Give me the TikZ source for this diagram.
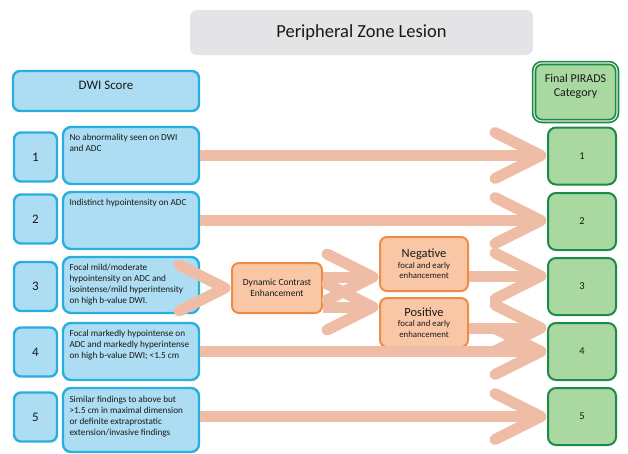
\documentclass[tikz,border=0pt]{standalone}
\usepackage{fontspec}
\setmainfont{Carlito}

\definecolor{blueFill}{HTML}{ADDDF2}
\definecolor{blueLine}{HTML}{2AAEE0}
\definecolor{greenFill}{HTML}{A9D8A0}
\definecolor{greenLine}{HTML}{1E8A4A}
\definecolor{orangeFill}{HTML}{FAC7A6}
\definecolor{orangeLine}{HTML}{EE8C45}
\definecolor{flowColor}{HTML}{EFBDA6}
\definecolor{titleFill}{HTML}{E4E4E6}

% text held at the top of a box
\newcommand{\boxtext}[3]{\parbox[c][#1][t]{#2}{#3}}
% open chevron head and thick flow arrow
\newcommand{\chevron}[1]{\draw[flow, line cap=round, line join=round] ([shift={(-52pt,23pt)}]#1) -- ([xshift=-6pt]#1) -- ([shift={(-52pt,-23pt)}]#1);}
\newcommand{\flowto}[2]{\draw[flow, shorten >=6pt] (#1) -- (#2); \chevron{#2}}

\begin{document}
\begin{tikzpicture}[x=1pt, y=-1pt, text=black!90,
    descbox/.style={rectangle, rounded corners=8pt, draw=blueLine, fill=blueFill, line width=2.4pt, inner xsep=6.5pt, inner ysep=0pt, font=\fontsize{9.2}{11}\selectfont},
    numbox/.style={rectangle, rounded corners=7pt, draw=blueLine, fill=blueFill, line width=2.4pt, minimum width=43pt, minimum height=49pt, font=\fontsize{13}{15}\selectfont},
    catbox/.style={rectangle, rounded corners=8pt, draw=greenLine, fill=greenFill, line width=2pt, minimum width=68pt, minimum height=57pt, font=\fontsize{10.5}{12}\selectfont},
    dcebox/.style={rectangle, rounded corners=7pt, draw=orangeLine, fill=orangeFill, line width=2pt, align=center},
    flow/.style={draw=flowColor, line width=11pt}]
        \useasboundingbox (0, 0) rectangle (628, 453);

        \node[rectangle, rounded corners=7pt, fill=titleFill, minimum width=343pt, minimum height=45pt, font=\fontsize{18.5}{22}\selectfont] (title) at (361.5, 32.5) {Peripheral Zone Lesion};
        \node[numbox, minimum width=186pt, minimum height=40pt, text height=9pt, text depth=13pt] (dwi) at (106, 91) {DWI Score};
        \node[catbox, double=greenFill!40!white, double distance=1.1pt, line width=1.7pt, minimum width=83pt, minimum height=58pt, inner sep=0pt, font=\fontsize{12}{14}\selectfont] (final) at (575.5, 92) {\boxtext{58pt}{80pt}{\centering\vspace*{11pt}Final PIRADS\\Category}};

        \node[numbox] (n1) at (35.5, 157) {1};
        \node[numbox] (n2) at (35.5, 219) {2};
        \node[numbox] (n3) at (35.5, 286.5) {3};
        \node[numbox] (n4) at (35.5, 352) {4};
        \node[numbox] (n5) at (35.5, 417) {5};

        \node[descbox] (d1) at (131, 155.5) {\boxtext{57pt}{123pt}{\raggedright\vspace*{7pt}No abnormality seen on DWI\\and ADC}};
        \node[descbox] (d2) at (131, 220.5) {\boxtext{57pt}{123pt}{\raggedright\vspace*{7pt}Indistinct hypointensity on ADC}};
        \node[descbox] (d3) at (131, 285) {\boxtext{56pt}{123pt}{\raggedright\vspace*{7pt}Focal mild/moderate\\hypointensity on ADC and\\isointense/mild hyperintensity\\on high b-value DWI.}};
        \node[descbox] (d4) at (131, 351.5) {\boxtext{57pt}{123pt}{\raggedright\vspace*{7pt}Focal markedly hypointense on\\ADC and markedly hyperintense\\on high b-value DWI; <1.5 cm}};
        \node[descbox] (d5) at (131, 420) {\boxtext{64pt}{123pt}{\raggedright\vspace*{8pt}Similar findings to above but\\>1.5 cm in maximal dimension\\or definite extraprostatic\\extension/invasive findings}};

        \node[dcebox, minimum width=90pt, minimum height=50pt, font=\fontsize{9.5}{10.5}\selectfont] (dce) at (277, 288) {Dynamic Contrast\\Enhancement};
        \node[dcebox, minimum width=88pt, minimum height=54pt, font=\fontsize{8.8}{10.5}\selectfont] (neg) at (424, 264) {{\fontsize{12.5}{14}\selectfont Negative}\\focal and early\\enhancement};
        \node[dcebox, minimum width=88pt, minimum height=49pt, font=\fontsize{8.8}{10.5}\selectfont] (pos) at (424, 322.5) {{\fontsize{12.5}{14}\selectfont Positive}\\focal and early\\enhancement};

        \node[catbox] (g1) at (582, 156) {1};
        \node[catbox] (g2) at (582, 221.5) {2};
        \node[catbox] (g3) at (582, 286.5) {3};
        \node[catbox] (g4) at (582, 351.5) {4};
        \node[catbox] (g5) at (582, 416.5) {5};

        \coordinate (t1) at (d1.east -| g1.west);
        \coordinate (t2) at (d2.east -| g2.west);
        \coordinate (t4) at (d4.east -| g4.west);
        \coordinate (s5) at (g5.west -| d5.east);
        \coordinate (s6) at ([yshift=11pt]dce.east);
        \coordinate (t6) at (s6 -| neg.west);
        \coordinate (s7) at ([yshift=-19pt]dce.east);
        \coordinate (t7) at (s7 -| pos.west);
        \coordinate (s8) at ([yshift=-12pt]neg.east);
        \coordinate (t8) at (s8 -| g3.west);
        \coordinate (s9) at ([yshift=-5.5pt]pos.east);
        \coordinate (t9) at (s9 -| g4.west);

        \flowto{d1.east}{t1}
        \flowto{d2.east}{t2}
        \chevron{dce.west}
        \flowto{d4.east}{t4}
        \flowto{s5}{g5.west}
        \flowto{s6}{t6}
        \flowto{s7}{t7}
        \flowto{s8}{t8}
        \flowto{s9}{t9}

    \end{tikzpicture}
\end{document}
